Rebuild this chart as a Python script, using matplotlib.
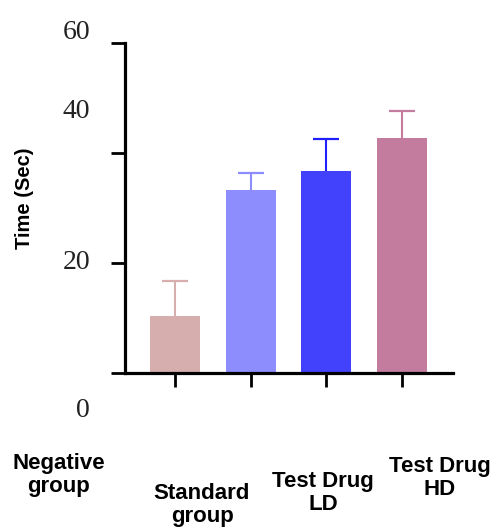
import matplotlib
matplotlib.use("Agg")
import matplotlib.pyplot as plt

categories = ["Negative\ngroup", "Standard\ngroup", "Test Drug\nLD", "Test Drug\nHD"]
means = [10.4, 33.3, 36.7, 42.8]
errors = [6.3, 3.0, 5.9, 4.8]
bar_colors = ["#D6AEAE", "#8D8DFD", "#4242FD", "#C37C9E"]
err_colors = ["#D6AEAE", "#8D8DFD", "#2020FF", "#C37C9E"]
ytick_values = [0, 20, 40, 60]
ytick_labels = ["60", "40", "20", "0"]

W, H = 497, 532
fig = plt.figure(figsize=(W / 100, H / 100), dpi=100)
ax = fig.add_axes([125 / W, 1 - 373 / H, (453 - 125) / W, (373 - 43) / H])

x = list(range(len(categories)))
ax.bar(x, means, width=0.66, color=bar_colors, zorder=2)
for xi, m, e, c in zip(x, means, errors, err_colors):
    ax.vlines(xi, m, m + e, color=c, linewidth=1.5, zorder=1)
    ax.plot([xi], [m + e], marker="_", markersize=19, markeredgewidth=1.6,
            color=c, zorder=1)

ax.set_xlim(-0.66, 3.67)
ax.set_ylim(0, 60)
ax.set_yticks(ytick_values)
ax.set_yticklabels([])
ax.set_xticks(x)
ax.set_xticklabels([])
for s in ["top", "right"]:
    ax.spines[s].set_visible(False)
for s in ["left", "bottom"]:
    ax.spines[s].set_linewidth(2.3)
ax.spines["left"].set_bounds(0, 60)
ax.tick_params(axis="both", length=10, width=2, color="black")

# y tick label texts (placed as in the reference)
ypix = [39, 118, 269, 417]
for lab, yp in zip(ytick_labels, ypix):
    fig.text(90 / W, 1 - yp / H, lab, ha="right", va="baseline",
             fontsize=20, family="Liberation Serif", color="#222222")

fig.text(25 / W, 1 - 198 / H, "Time (Sec)", rotation=90, ha="center", va="center",
         fontsize=14.5, fontweight="bold", family="Liberation Sans")

# category labels
xcent = [59, 202, 323, 440]
ytop = [453, 483, 471, 456]
for lab, xc, yt in zip(categories, xcent, ytop):
    fig.text(xc / W, 1 - yt / H, lab, ha="center", va="top", fontsize=16,
             fontweight="bold", family="Liberation Sans", linespacing=1.1,
             multialignment="center")

fig.savefig("out.png", dpi=100)
